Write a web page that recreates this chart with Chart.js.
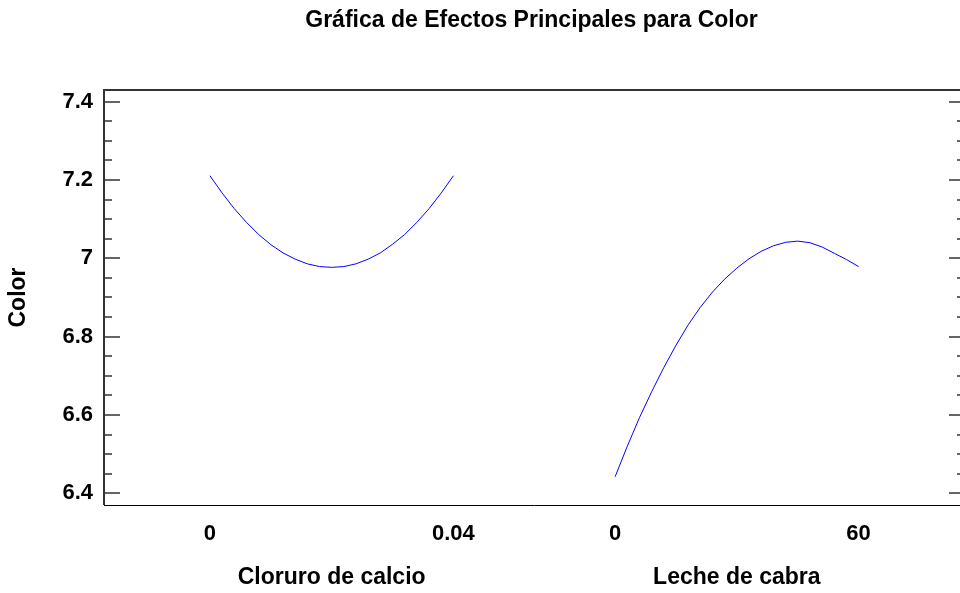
<!DOCTYPE html>
<html>
<head>
<meta charset="utf-8">
<script src="https://cdn.jsdelivr.net/npm/chart.js@4"></script>
<style>
  html, body { margin: 0; padding: 0; background: #fff; overflow: hidden; }
  #wrap { width: 970px; height: 593px; }
</style>
</head>
<body>
<div id="wrap"><canvas id="myChart"></canvas></div>
<script>
var chartTitle = 'Gráfica de Efectos Principales para Color';
var yTitle = 'Color';
var factorNames = ['Cloruro de calcio', 'Leche de cabra'];

// niveles de cada factor (bajo -> alto) y el color estimado
var cloruroLevels = [0, 0.002, 0.004, 0.006, 0.008, 0.01, 0.012, 0.014, 0.016, 0.018, 0.02,
  0.022, 0.024, 0.026, 0.028, 0.03, 0.032, 0.034, 0.036, 0.038, 0.04];
var cloruroColor = [7.211, 7.167, 7.127, 7.092, 7.061, 7.035, 7.014, 6.998, 6.986, 6.979, 6.977,
  6.979, 6.986, 6.998, 7.014, 7.036, 7.061, 7.092, 7.127, 7.167, 7.211];
var lecheLevels = [0, 3, 6, 9, 12, 15, 18, 21, 24, 27, 30, 33, 36, 39, 42, 45, 48, 51, 54, 57, 60];
var lecheColor = [6.442, 6.520, 6.593, 6.659, 6.721, 6.778, 6.830, 6.875, 6.914, 6.947, 6.975,
  6.999, 7.018, 7.032, 7.041, 7.044, 7.040, 7.029, 7.013, 6.997, 6.979];

var xTickLabels = ['0', '0.04', '0', '60'];
var yTicks = [6.4, 6.6, 6.8, 7, 7.2, 7.4];

var FONT = "'Liberation Sans', Arial, sans-serif";
var slotStart = [0, 1.664]; // each factor takes one unit on the x axis

function toPoints(levels, values, slot) {
  var lo = levels[0], hi = levels[levels.length - 1];
  return levels.map(function (l, i) {
    return { x: slotStart[slot] + (l - lo) / (hi - lo), y: values[i] };
  });
}

var xTickPos = [slotStart[0], slotStart[0] + 1, slotStart[1], slotStart[1] + 1];

var framePlugin = {
  id: 'frame',
  afterDraw: function (chart) {
    var c = chart.ctx, a = chart.chartArea, ys = chart.scales.y, xs = chart.scales.x;
    c.save();
    // frame
    c.strokeStyle = '#333';
    c.lineWidth = 2;
    c.beginPath();
    c.moveTo(a.left, a.bottom);
    c.lineTo(a.left, a.top);
    c.lineTo(a.right, a.top);
    c.lineTo(a.right, a.bottom);
    c.stroke();
    c.strokeStyle = '#000';
    c.lineWidth = 1;
    c.beginPath();
    c.moveTo(a.left, a.bottom + 0.5);
    c.lineTo(a.right, a.bottom + 0.5);
    c.stroke();

    // inward ticks, left and right
    c.strokeStyle = '#333';
    c.lineWidth = 1.5;
    function tick(v, len) {
      var p = Math.round(ys.getPixelForValue(v));
      c.beginPath();
      c.moveTo(a.left, p); c.lineTo(a.left + len, p);
      c.moveTo(a.right, p); c.lineTo(a.right - len, p);
      c.stroke();
    }
    for (var i = 0; i < yTicks.length; i++) {
      tick(yTicks[i], 16);
      if (i < yTicks.length - 1) {
        for (var k = 1; k < 4; k++) {
          tick(yTicks[i] + (yTicks[i + 1] - yTicks[i]) * k / 4, 8);
        }
      }
    }

    // title
    c.fillStyle = '#000';
    c.font = 'bold 23px ' + FONT;
    c.textAlign = 'center';
    c.textBaseline = 'alphabetic';
    c.fillText(chartTitle, (a.left + a.right) / 2 - 3, 27);

    // factor names under each pair of levels
    for (var f = 0; f < factorNames.length; f++) {
      var mid = xs.getPixelForValue(slotStart[f] + 0.5);
      c.fillText(factorNames[f], mid, 584);
    }
    c.restore();
  }
};

var ctx = document.getElementById('myChart').getContext('2d');
var myChart = new Chart(ctx, {
  type: 'line',
  data: {
    datasets: [{
      data: toPoints(cloruroLevels, cloruroColor, 0),
      label: factorNames[0],
      borderColor: '#0000ff',
      borderWidth: 1,
      pointRadius: 0,
      fill: false
    }, {
      data: toPoints(lecheLevels, lecheColor, 1),
      label: factorNames[1],
      borderColor: '#0000ff',
      borderWidth: 1,
      pointRadius: 0,
      fill: false
    }]
  },
  options: {
    responsive: true,
    maintainAspectRatio: false,
    animation: false,
    layout: { padding: { top: 90, right: 5, left: 0, bottom: 0 } },
    plugins: {
      legend: { display: false },
      title: { display: false },
      tooltip: { enabled: false }
    },
    scales: {
      x: {
        type: 'linear',
        min: -0.435,
        max: 3.101,
        grid: { display: false, drawTicks: false },
        border: { display: false },
        afterBuildTicks: function (s) {
          s.ticks = xTickPos.map(function (v) { return { value: v }; });
        },
        afterFit: function (s) { s.height = 88; },
        ticks: {
          autoSkip: false,
          maxRotation: 0,
          padding: 16,
          color: '#000',
          font: { family: FONT, size: 22, weight: 'bold' },
          callback: function (v, i) { return xTickLabels[i]; }
        }
      },
      y: {
        min: 6.37,
        max: 7.43,
        grid: { display: false, drawTicks: false },
        border: { display: false },
        afterBuildTicks: function (s) {
          s.ticks = yTicks.map(function (v) { return { value: v }; });
        },
        afterFit: function (s) { s.width = 104; },
        ticks: {
          padding: 11,
          color: '#000',
          font: { family: FONT, size: 22, weight: 'bold' },
          callback: function (v) { return String(+v.toFixed(2)); }
        },
        title: {
          display: true,
          text: yTitle,
          color: '#000',
          padding: { top: 5, bottom: 0 },
          font: { family: FONT, size: 23, weight: 'bold' }
        }
      }
    }
  },
  plugins: [framePlugin]
});
</script>
</body>
</html>
